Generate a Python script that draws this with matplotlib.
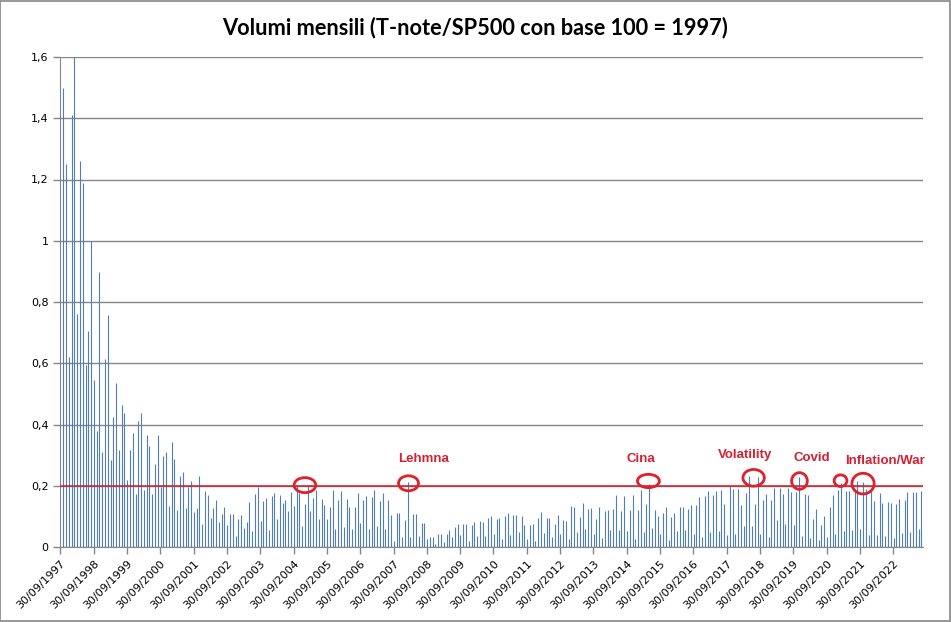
import matplotlib.pyplot as plt
import numpy as np
from matplotlib.patches import Ellipse, Rectangle

# ====data====
# monthly volume ratio (T-note / SP500, base 100 = 1997), one value per month
volumes = [
    1.50, 1.25, 0.62, 1.41, 1.60, 0.76, 1.26, 1.19, 0.595, 0.705,
    1.00, 0.544, 0.379, 0.898, 0.31, 0.614, 0.756, 0.285, 0.424, 0.535,
    0.318, 0.463, 0.437, 0.22, 0.317, 0.371, 0.174, 0.411, 0.437, 0.185,
    0.365, 0.329, 0.174, 0.27, 0.365, 0.196, 0.296, 0.309, 0.134, 0.342,
    0.287, 0.12, 0.231, 0.246, 0.126, 0.196, 0.214, 0.114, 0.126, 0.232,
    0.075, 0.182, 0.17, 0.096, 0.126, 0.155, 0.082, 0.107, 0.129, 0.071,
    0.107, 0.107, 0.036, 0.091, 0.104, 0.062, 0.082, 0.148, 0.053, 0.172,
    0.195, 0.085, 0.151, 0.159, 0.055, 0.165, 0.175, 0.09, 0.17, 0.144,
    0.155, 0.119, 0.178, 0.135, 0.204, 0.177, 0.069, 0.139, 0.204, 0.116,
    0.159, 0.187, 0.093, 0.158, 0.136, 0.09, 0.131, 0.185, 0.058, 0.155,
    0.183, 0.066, 0.156, 0.13, 0.058, 0.13, 0.177, 0.08, 0.153, 0.166,
    0.059, 0.162, 0.186, 0.07, 0.15, 0.175, 0.06, 0.153, 0.104, 0.02,
    0.11, 0.11, 0.034, 0.088, 0.212, 0.034, 0.107, 0.107, 0.036, 0.079,
    0.08, 0.025, 0.032, 0.032, 0.01, 0.041, 0.042, 0.017, 0.042, 0.056,
    0.034, 0.065, 0.075, 0.038, 0.074, 0.076, 0.021, 0.073, 0.083, 0.035,
    0.086, 0.083, 0.036, 0.095, 0.1, 0.043, 0.092, 0.095, 0.025, 0.1,
    0.11, 0.04, 0.106, 0.105, 0.048, 0.101, 0.072, 0.026, 0.072, 0.076,
    0.02, 0.094, 0.114, 0.046, 0.096, 0.095, 0.032, 0.075, 0.105, 0.042,
    0.088, 0.085, 0.026, 0.133, 0.13, 0.05, 0.097, 0.144, 0.059, 0.123,
    0.126, 0.042, 0.091, 0.13, 0.03, 0.117, 0.12, 0.054, 0.124, 0.17,
    0.054, 0.118, 0.166, 0.053, 0.121, 0.17, 0.025, 0.12, 0.185, 0.049,
    0.139, 0.207, 0.062, 0.12, 0.1, 0.042, 0.11, 0.131, 0.023, 0.097,
    0.112, 0.053, 0.131, 0.131, 0.057, 0.125, 0.136, 0.044, 0.136, 0.163,
    0.032, 0.165, 0.184, 0.048, 0.17, 0.183, 0.051, 0.185, 0.141, 0.038,
    0.199, 0.189, 0.042, 0.191, 0.136, 0.069, 0.175, 0.231, 0.07, 0.14,
    0.23, 0.044, 0.152, 0.174, 0.034, 0.155, 0.194, 0.088, 0.192, 0.174,
    0.074, 0.194, 0.18, 0.071, 0.178, 0.228, 0.036, 0.173, 0.17, 0.031,
    0.093, 0.124, 0.023, 0.071, 0.1, 0.034, 0.131, 0.17, 0.044, 0.185,
    0.209, 0.053, 0.183, 0.182, 0.055, 0.19, 0.217, 0.06, 0.212, 0.19,
    0.04, 0.185, 0.15, 0.04, 0.176, 0.143, 0.035, 0.146, 0.143, 0.03,
    0.14, 0.157, 0.045, 0.154, 0.18, 0.05, 0.179, 0.181, 0.06, 0.183,
]
tick_years = list(range(1997, 2023))
tick_labels = ['30/09/%d' % y for y in tick_years]
y_ticks = [0, 0.2, 0.4, 0.6, 0.8, 1.0, 1.2, 1.4, 1.6]
y_labels = ['0', '0,2', '0,4', '0,6', '0,8', '1', '1,2', '1,4', '1,6']
soglia = 0.2

# events (positions in month index / value units)
event_names = ['Lehmna', 'Cina', 'Volatility', 'Covid', 'Inflation/War']
event_x = [129.6, 208.1, 245.6, 269.7, 296.0]
event_y = [0.287, 0.287, 0.300, 0.291, 0.281]
ring_x = [87.0, 124.3, 210.7, 248.6, 265.1, 279.9, 288.0]
ring_y = [0.202, 0.208, 0.2155, 0.226, 0.2155, 0.2165, 0.207]
ring_w = [7.8, 7.2, 7.9, 7.7, 5.65, 4.6, 8.0]
ring_h = [0.049, 0.049, 0.0435, 0.0545, 0.0545, 0.038, 0.0675]

# ====plot====
fig = plt.figure(figsize=(9.51, 6.22), dpi=100)
ax = fig.add_axes([60.3 / 951, 1 - 547 / 622, 863 / 951, 490 / 622])

x = np.arange(len(volumes))
# thin 1px columns, like the excel chart
ax.vlines(x, 0, volumes, colors='#4f7fb5', linewidth=0.8, zorder=2)
ax.axhline(soglia, color='#d0202a', linewidth=1.1, zorder=3)

# red rings around the peaks
for cx, cy, w, h in zip(ring_x, ring_y, ring_w, ring_h):
    ax.add_patch(Ellipse((cx, cy), w, h, fill=False, edgecolor='#e0202a',
                         linewidth=2.0, zorder=4))
for name, tx, ty in zip(event_names, event_x, event_y):
    ax.text(tx, ty, name, color='#d42030', fontsize=9.5, fontweight='bold',
            family='Liberation Sans', ha='center', va='center', zorder=5)

ax.set_xlim(-1.1, 309.7)
ax.set_ylim(0, 1.6)
ax.set_yticks(y_ticks)
ax.set_yticklabels(y_labels, fontsize=8)
ax.set_xticks([-1.1 + 12 * i for i in range(len(tick_years))])
ax.set_xticklabels(tick_labels, fontsize=8, rotation=45, ha='right',
                   rotation_mode='anchor')
ax.tick_params(axis='both', color='#868686', length=5, width=1)
ax.tick_params(axis='x', pad=3)
ax.grid(axis='y', color='#868686', linewidth=1, zorder=1)
ax.set_axisbelow(True)
for side in ['top', 'right']:
    ax.spines[side].set_visible(False)
for side in ['left', 'bottom']:
    ax.spines[side].set_color('#868686')

fig.text(0.5, 1 - 28 / 622, 'Volumi mensili (T-note/SP500 con base 100 = 1997)',
         ha='center', va='center', fontsize=15.7, fontweight='bold', family='Lato')
fig.patches.append(Rectangle((0.0005, 0.001), 0.998, 0.997, transform=fig.transFigure,
                             fill=False, edgecolor='#868686', linewidth=1.2))

plt.savefig('out.png', dpi=100)
